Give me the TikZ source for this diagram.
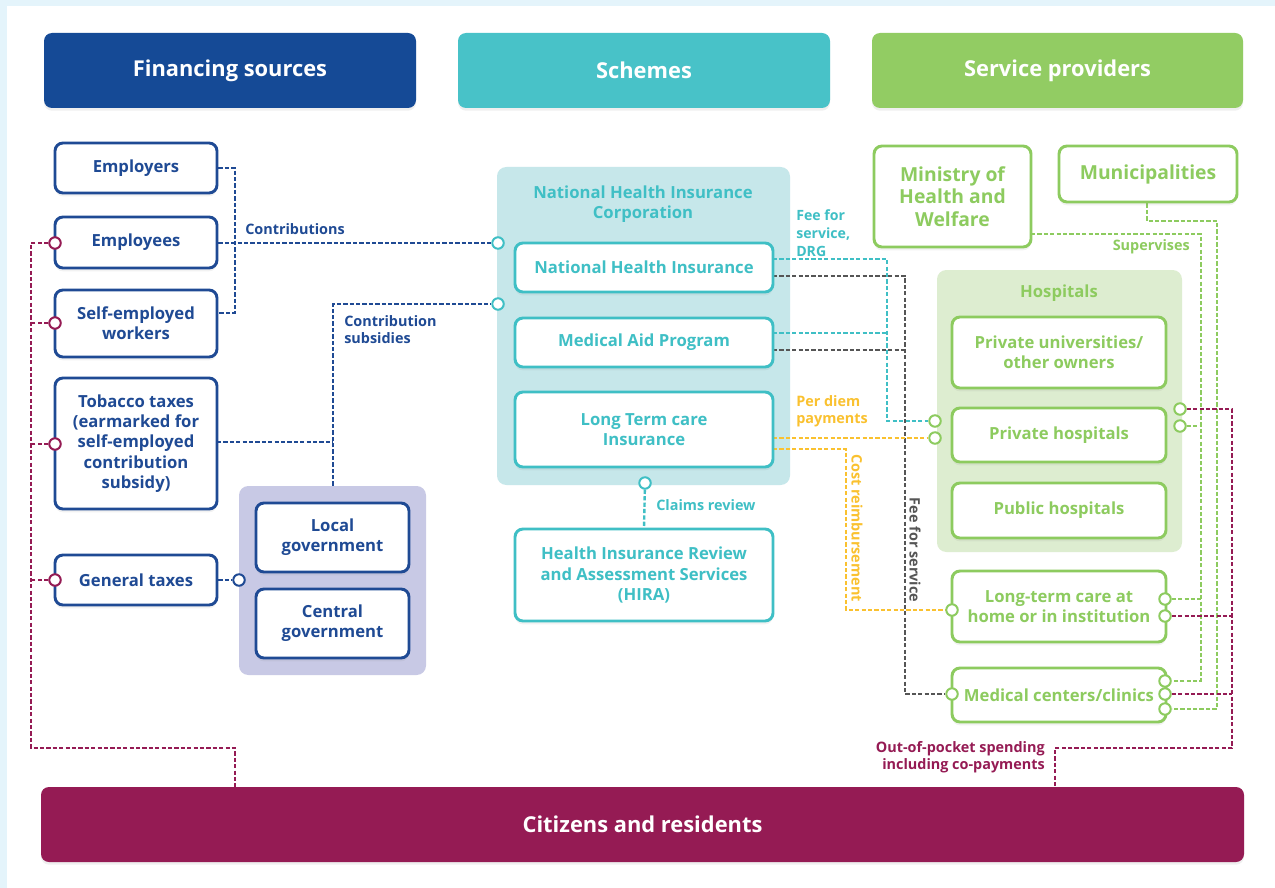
\documentclass[tikz,border=0pt]{standalone}
\usepackage{fontspec}
\setmainfont{Open Sans}
\usetikzlibrary{shadows,calc}
\definecolor{dblue}{HTML}{154A96}
\definecolor{bbord}{HTML}{1F4A94}
\definecolor{tealh}{HTML}{48C2C8}
\definecolor{tealt}{HTML}{3FBFC5}
\definecolor{greenh}{HTML}{92CC63}
\definecolor{greent}{HTML}{8DCB5F}
\definecolor{maroon}{HTML}{951B54}
\definecolor{nhibg}{HTML}{C6E7EA}
\definecolor{hospbg}{HTML}{DDEDD0}
\definecolor{govbg}{HTML}{C8C9E5}
\definecolor{yell}{HTML}{FAC12F}
\definecolor{grayl}{HTML}{555555}
\definecolor{frame}{HTML}{E4F4FB}
\pgfdeclarelayer{back}
\pgfdeclarelayer{bg}
\pgfdeclarelayer{lines}
\pgfsetlayers{back,bg,lines,main}
\tikzset{
  area/.style n args={4}{at={({(#1+#3)/2},{(#2+#4)/2})}, anchor=center,
     minimum width={(#3-#1)*0.75pt}, minimum height={(#4-#2)*0.75pt}, inner sep=0pt},
  header/.style={rounded corners=6pt, text=white,
     font=\bfseries\fontsize{16.4}{19}\selectfont,
     drop shadow={shadow xshift=0pt, shadow yshift=-2pt, opacity=0.12}},
  boxbase/.style={rounded corners=6pt, fill=white,
     line width=2.2pt, align=center,
     font=\bfseries\fontsize{12.5}{15.2}\selectfont,
     drop shadow={shadow xshift=0pt, shadow yshift=-2.5pt, opacity=0.10}},
  bluebox/.style={boxbase, draw=bbord, text=bbord},
  tealbox/.style={boxbase, draw=tealt, text=tealt},
  greenbox/.style={boxbase, draw=greent, text=greent},
  grp/.style={rounded corners=7pt},
  port/.style={circle, draw=#1, fill=white, line width=1.5pt, minimum size=8.6pt, inner sep=0pt},
  conn/.style={draw=#1, line width=1.8pt, dash pattern=on 3.2pt off 1.6pt},
  lbl/.style={text=#1, font=\bfseries\fontsize{10.8}{12.8}\selectfont, inner sep=0pt, align=left},
}
\begin{document}
\begin{tikzpicture}[x=0.75pt,y=-0.75pt]
\useasboundingbox (0,0) rectangle (1275,888);
\begin{pgfonlayer}{back}
\fill[frame] (0,0) rectangle (1275,888);
\fill[white] (7,6) rectangle (1275,888);
\end{pgfonlayer}

% headers
\node[area={44}{33}{416}{108}, header, fill=dblue] (hfin) {Financing sources};
\node[area={458}{33}{830}{108}, header, fill=tealh] (hsch) {Schemes};
\node[area={872}{33}{1243}{108}, header, fill=greenh] (hsp) {Service providers};

% citizens
\node[area={41}{787}{1244}{862}, header, fill=maroon] (cit) {Citizens and residents};

% group backgrounds
\begin{pgfonlayer}{bg}
\node[area={239}{486}{426}{675}, grp, fill=govbg] (gov) {};
\node[area={497}{167}{790}{485}, grp, fill=nhibg] (nhic) {};
\node[area={937}{270}{1182}{552}, grp, fill=hospbg] (hosp) {};
\end{pgfonlayer}

% financing boxes
\node[area={55}{143}{217}{193}, bluebox] (empr) {Employers};
\node[area={55}{217}{217}{268}, bluebox] (empe) {Employees};
\node[area={55}{290}{217}{357}, bluebox] (self) {Self-employed\\workers};
\node[area={55}{378}{217}{509}, bluebox] (tob) {Tobacco taxes\\(earmarked for\\self-employed\\contribution\\subsidy)};
\node[area={55}{555}{217}{605}, bluebox] (gen) {General taxes};
\node[area={256}{503}{409}{572}, bluebox] (loc) {Local\\government};
\node[area={256}{589}{409}{658}, bluebox] (cen) {Central\\government};

% schemes
\node[text=tealt, font=\bfseries\fontsize{12.5}{15.2}\selectfont, align=center] (nhict) at (643,204) {National Health Insurance\\Corporation};
\node[area={515}{243}{773}{292}, tealbox] (nhi) {National Health Insurance};
\node[area={515}{318}{773}{367}, tealbox] (map) {Medical Aid Program};
\node[area={515}{392}{773}{467}, tealbox] (ltci) {Long Term care\\Insurance};
\node[area={515}{529}{773}{621}, tealbox] (hira) {Health Insurance Review\\and Assessment Services\\(HIRA)};

% providers
\node[area={874}{146}{1031}{247}, greenbox, font=\bfseries\fontsize{14.5}{17}\selectfont] (min) {Ministry of\\Health and\\Welfare};
\node[area={1059}{146}{1237}{202}, greenbox, font=\bfseries\fontsize{14.5}{17}\selectfont] (mun) {Municipalities};
\node[text=greent, font=\bfseries\fontsize{12.5}{15}\selectfont] (hospt) at (1059,293) {Hospitals};
\node[area={952}{317}{1166}{388}, greenbox] (puo) {Private universities/\\other owners};
\node[area={952}{408}{1166}{462}, greenbox] (ph) {Private hospitals};
\node[area={952}{483}{1166}{538}, greenbox] (pub) {Public hospitals};
\node[area={952}{571}{1166}{642}, greenbox] (ltc) {Long-term care at\\home or in institution};
\node[area={952}{668}{1166}{722}, greenbox] (mc) {Medical centers/clinics};

% ports (circles)
\node[port=maroon] (pEmpe) at (55,243) {};
\node[port=maroon] (pSelf) at (55,323) {};
\node[port=maroon] (pTob) at (55,444) {};
\node[port=maroon] (pGen) at (55,580) {};
\node[port=bbord] (pGov) at (239,580) {};
\node[port=tealt] (pN1) at (498,243) {};
\node[port=tealt] (pN2) at (498,304) {};
\node[port=tealt] (pN3) at (645,483) {};
\node[port=greent] (pPH1) at (935,421) {};
\node[port=greent] (pPH2) at (935,438) {};
\node[port=greent] (pPH3) at (1180,409) {};
\node[port=greent] (pPH4) at (1180,426) {};
\node[port=greent] (pL1) at (952,610) {};
\node[port=greent] (pL2) at (1165,599) {};
\node[port=greent] (pL3) at (1165,616) {};
\node[port=greent] (pM1) at (952,694) {};
\node[port=greent] (pM2) at (1165,681) {};
\node[port=greent] (pM3) at (1165,694) {};
\node[port=greent] (pM4) at (1165,709) {};

% named junction coordinates
\coordinate (mlT) at (31,243);
\coordinate (mlB) at (31,748);
\coordinate (mlC) at (235,748);
\coordinate (bJ) at (235,168);
\coordinate (bS) at (235,313);
\coordinate (sR) at (217,313);
\coordinate (bV) at (333,304);
\coordinate (bT) at (333,442);
\coordinate (tR) at (217,442);
\coordinate (nhiA) at (773,259);
\coordinate (nhiB) at (773,276);
\coordinate (mapA) at (773,333);
\coordinate (mapB) at (773,350);
\coordinate (ltcA) at (773,438);
\coordinate (ltcB) at (773,449);
\coordinate (tV) at (887,259);
\coordinate (gV) at (905,276);
\coordinate (yV) at (846,449);
\coordinate (minR) at (1031,234);
\coordinate (sV) at (1201,234);
\coordinate (muV) at (1217,221);
\coordinate (muB) at (1147,221);
\coordinate (rV) at (1232,409);
\coordinate (rB) at (1232,748);
\coordinate (rC) at (1055,748);

\begin{pgfonlayer}{lines}
% maroon left
\draw[conn=maroon] (pEmpe) -- (mlT) -- (mlB) -- (mlC) -- (mlC |- cit.north);
\draw[conn=maroon] (pSelf) -- (pSelf -| mlT);
\draw[conn=maroon] (pTob) -- (pTob -| mlT);
\draw[conn=maroon] (pGen) -- (pGen -| mlT);
% blue
\draw[conn=bbord] (empr.east) -- (bJ) -- (bS) -- (sR);
\draw[conn=bbord] (empe.east |- pN1) -- (pN1);
\draw[conn=bbord] (gov.north -| bV) -- (bV) -- (pN2);
\draw[conn=bbord] (tR) -- (bT);
\draw[conn=bbord] (gen.east) -- (pGov);
% teal
\draw[conn=tealt] (nhiA) -- (tV) -- (tV |- pPH1) -- (pPH1);
\draw[conn=tealt] (mapA) -- (mapA -| tV);
\draw[conn=tealt] (pN3) -- (hira.north);
% gray
\draw[conn=grayl] (nhiB) -- (gV) -- (gV |- pM1) -- (pM1);
\draw[conn=grayl] (mapB) -- (mapB -| gV);
% yellow
\draw[conn=yell] (ltcA) -- (pPH2);
\draw[conn=yell] (ltcB) -- (yV) -- (yV |- pL1) -- (pL1);
% green
\draw[conn=greent] (minR) -- (sV) -- (sV |- pM2) -- (pM2);
\draw[conn=greent] (pPH4) -- (pPH4 -| sV);
\draw[conn=greent] (pL2) -- (pL2 -| sV);
\draw[conn=greent] (mun.south -| muB) -- (muB) -- (muV) -- (muV |- pM4) -- (pM4);
% maroon right
\draw[conn=maroon] (pPH3) -- (rV) -- (rB) -- (rC) -- (rC |- cit.north);
\draw[conn=maroon] (pL3) -- (pL3 -| rV);
\draw[conn=maroon] (pM3) -- (pM3 -| rV);
\end{pgfonlayer}

% labels
\node[lbl=bbord, anchor=west] (lcon) at (245,229) {Contributions};
\node[lbl=bbord, anchor=north west] (lsub) at (344,315) {Contribution\\subsidies};
\node[lbl=tealt, anchor=north west, font=\bfseries\fontsize{10.6}{13.8}\selectfont] (lfee) at (796,209) {Fee for\\service,\\DRG};
\node[lbl=yell, anchor=north west, font=\bfseries\fontsize{10.8}{13.2}\selectfont] (lper) at (796,395) {Per diem\\payments};
\node[lbl=yell, rotate=-90] (lcost) at (857,528) {Cost reimbursement};
\node[lbl=grayl, rotate=-90] (lffs) at (915,550) {Fee for service};
\node[lbl=tealt, anchor=west] (lclaim) at (656,505) {Claims review};
\node[lbl=greent, anchor=east] (lsup) at (1190,247) {Supervises};
\node[lbl=maroon, anchor=north east, align=right] (loop) at (1045,741) {Out-of-pocket spending\\including co-payments};
\end{tikzpicture}
\end{document}
